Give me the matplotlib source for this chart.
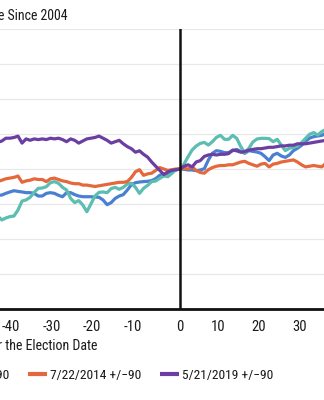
import matplotlib
matplotlib.use("Agg")
import matplotlib.pyplot as plt
from matplotlib import transforms

plt.rcParams['font.family'] = ['Roboto Condensed', 'DejaVu Sans']

# Trading days relative to the election date
days = list(range(-45, 37))

blue = [81.2, 81.4, 82.6, 83.6, 84.5, 84.0, 83.6, 83.1, 83.1, 82.6,
        80.7, 80.7, 82.6, 83.1, 82.6, 81.2, 80.2, 83.1, 83.1, 81.7,
        80.7, 80.2, 80.2, 80.2, 80.0, 79.8, 77.9, 74.5, 76.0, 79.0,
        80.7, 81.7, 85.0, 88.8, 90.2, 90.7, 91.0, 91.2, 91.7, 93.1,
        95.5, 96.4, 96.9, 98.3, 99.3, 100.0, 99.8, 99.3, 99.3, 98.8,
        99.3, 100.2, 106.4, 111.2, 113.1, 112.6, 111.7, 111.7, 113.1, 114.0,
        112.6, 111.2, 113.1, 112.6, 112.1, 111.2, 108.8, 106.0, 110.0, 111.2,
        109.3, 108.3, 110.0, 113.1, 114.8, 116.9, 119.8, 122.1, 123.1, 123.6,
        124.0, 125.5]

teal = [66.4, 63.6, 65.0, 66.0, 66.4, 70.7, 77.1, 77.9, 79.8, 83.3,
        86.2, 86.4, 87.4, 90.2, 91.0, 89.8, 86.9, 85.0, 79.0, 76.0,
        77.4, 74.3, 69.5, 75.0, 80.7, 83.3, 83.6, 83.1, 86.0, 86.9,
        85.5, 86.9, 89.3, 89.8, 86.9, 82.6, 86.2, 88.3, 91.0, 91.4,
        93.3, 95.0, 94.5, 96.9, 99.5, 100.0, 103.6, 108.8, 113.6, 116.4,
        118.3, 119.0, 117.1, 119.5, 122.6, 124.0, 121.2, 121.2, 124.0, 121.9,
        116.0, 111.7, 114.8, 119.3, 121.4, 121.9, 121.9, 121.7, 119.5, 121.2,
        117.1, 113.1, 114.8, 115.5, 116.4, 118.8, 121.9, 124.8, 126.0, 124.3,
        126.7, 128.3]

orange = [91.0, 92.0, 93.0, 93.5, 94.0, 95.0, 90.5, 91.5, 92.0, 93.0,
          92.5, 92.5, 91.0, 93.0, 93.5, 92.5, 91.5, 91.0, 90.0, 89.5,
          89.5, 88.5, 88.5, 88.0, 87.5, 88.0, 88.5, 89.0, 89.5, 90.0,
          90.5, 90.5, 91.0, 94.0, 98.0, 99.5, 95.5, 96.5, 97.0, 99.0,
          101.0, 100.0, 99.0, 99.5, 100.0, 100.0, 100.5, 100.0, 101.5, 99.0,
          97.5, 97.0, 99.5, 101.0, 102.0, 102.5, 102.5, 103.0, 103.0, 104.0,
          105.0, 105.5, 104.0, 103.0, 102.0, 103.5, 104.0, 101.5, 103.5, 104.0,
          105.0, 105.5, 106.0, 106.5, 105.0, 103.0, 101.5, 102.0, 102.5, 102.0,
          101.5, 104.0]

purple = [119.0, 120.0, 122.0, 122.0, 122.5, 123.5, 118.5, 121.5, 120.5, 121.5,
          121.0, 121.5, 121.0, 122.0, 121.5, 122.0, 121.0, 119.5, 121.5, 120.5,
          118.5, 120.0, 121.5, 122.0, 122.5, 123.5, 122.0, 120.5, 118.5, 119.5,
          120.5, 118.0, 116.0, 114.5, 112.0, 113.0, 110.5, 108.5, 105.0, 102.0,
          99.0, 96.0, 98.0, 99.0, 99.5, 100.0, 102.0, 103.0, 101.5, 105.0,
          106.0, 109.0, 110.0, 110.5, 110.0, 110.5, 110.5, 111.0, 113.5, 113.0,
          112.0, 112.5, 113.5, 114.0, 114.5, 114.5, 115.0, 115.5, 115.5, 116.0,
          116.5, 116.5, 117.0, 117.0, 118.0, 118.0, 118.0, 118.5, 119.0, 119.5,
          120.0, 120.5]

series_labels = ["10/4/2004 +/\u221290", "7/25/2009 +/\u221290",
                 "7/22/2014 +/\u221290", "5/21/2019 +/\u221290"]
series_colors = ["#4A80D2", "#5CBDB1", "#E4683B", "#6B3FA2"]

xticks = [-40, -30, -20, -10, 0, 10, 20, 30]
ygrid = [25, 50, 75, 100, 125, 150, 175, 200]

y_title = "Index Relative to the Average Since 2004"
x_title = "Days Before and After the Election Date"

W, H = 324, 400
fig = plt.figure(figsize=(W / 100, H / 100), dpi=100)

# plot area in pixels: x = 0 sits at 180 px, 4.05 px per day; y spans 29..309 px
x_min, x_max, ppd = -90, 40, 4.05
left_px = 180 - (0 - x_min) * ppd
ax = fig.add_axes([left_px / W, 1 - 309 / H, (x_max - x_min) * ppd / W, 280 / H])
ax.set_xlim(x_min, x_max)
ax.set_ylim(0, 200)

for v in ygrid:
    ax.axhline(v, color="#e8e8e8", lw=0.9, zorder=0)

for vals, col, lab in zip([blue, teal, orange, purple], series_colors, series_labels):
    ax.plot(days, vals, color=col, lw=2.3, label=lab, zorder=3,
            solid_joinstyle="round", solid_capstyle="butt")

ax.axvline(0, color="#111111", lw=1.8, zorder=6)

for s in ["left", "right", "top"]:
    ax.spines[s].set_visible(False)
ax.spines["bottom"].set_color("#111111")
ax.spines["bottom"].set_linewidth(2.0)
ax.set_xticks([])
ax.set_yticks([])

# x tick labels, numbers centred under each tick
base = transforms.blended_transform_factory(ax.transData, ax.transAxes)
for t in xticks:
    dx = -7 if t < 0 else (-2 if t > 0 else 0)
    off = transforms.ScaledTranslation(dx / 100, -22 / 100, fig.dpi_scale_trans)
    ax.text(t, 0, f"{t}", transform=base + off, ha="center", va="baseline",
            fontsize=10.5, color="#1a1a1a")

fig.text(68 / W, 1 - 20 / H, y_title, ha="right", va="baseline",
         fontsize=10, color="#1a1a1a")
fig.text(97 / W, 1 - 350 / H, x_title, ha="right", va="baseline",
         fontsize=10, color="#1a1a1a")

handles, labels = ax.get_legend_handles_labels()
leg = fig.legend(handles, labels, loc="center", ncol=4,
                 bbox_to_anchor=(18.5 / W, 1 - 375 / H), frameon=False,
                 fontsize=9.7, handlelength=1.4, handletextpad=0.25,
                 columnspacing=1.4, borderpad=0, borderaxespad=0)
for line in leg.get_lines():
    line.set_linewidth(3)
for txt in leg.get_texts():
    txt.set_color("#1a1a1a")

fig.savefig("out.png", dpi=100)
